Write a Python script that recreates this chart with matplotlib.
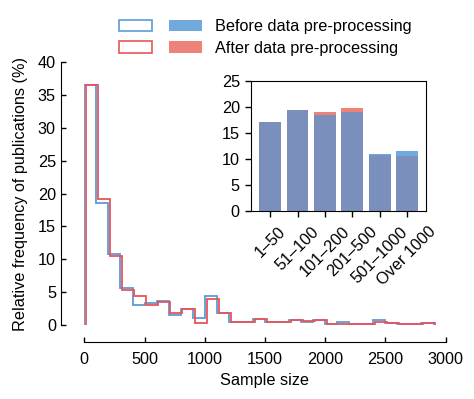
import numpy as np
import matplotlib
matplotlib.use("Agg")
import matplotlib.pyplot as plt
from matplotlib.patches import Patch
from matplotlib.legend_handler import HandlerTuple

plt.rcParams["font.family"] = ["Liberation Sans", "DejaVu Sans"]
plt.rcParams["font.size"] = 11.7

# histogram: relative frequency (%) per 100-sample bin
bin_edges = np.arange(0, 3000, 100)
before_hist = [36.5, 18.6, 10.8, 5.6, 3.0, 3.4, 3.7, 1.5, 2.4, 1.1,
               4.4, 1.9, 0.45, 0.45, 1.0, 0.45, 0.45, 0.8, 0.45, 0.8,
               0.2, 0.5, 0.2, 0.2, 0.8, 0.4, 0.15, 0.15, 0.4]
after_hist = [36.5, 19.2, 10.5, 5.3, 4.5, 3.1, 3.45, 1.9, 2.4, 0.4,
              4.05, 1.9, 0.45, 0.45, 1.0, 0.45, 0.45, 0.8, 0.7, 0.8,
              0.2, 0.2, 0.2, 0.2, 0.45, 0.4, 0.15, 0.15, 0.4]

# inset: share per sample size group (%)
groups = ["1\u201350", "51\u2013100", "101\u2013200", "201\u2013500",
          "501\u20131000", "Over 1000"]
before_grp = [17.1, 19.4, 18.4, 19.0, 10.9, 11.6]
after_grp = [17.1, 19.4, 19.05, 19.7, 10.8, 10.5]

blue_line = "#5b9bd5"
red_line = "#e8555a"
blue_fill = "#70a9dc"
red_fill = "#ef8278"
overlap = "#7a8fbb"

fig = plt.figure(figsize=(4.74, 3.99), dpi=100)
ax = fig.add_axes([0.178, 0.185, 0.762, 0.66])

shift = 15  # small offset so both outlines stay visible
ax.stairs(before_hist, bin_edges, color=blue_line, lw=1.3)
ax.stairs(after_hist, bin_edges + shift, color=red_line, lw=1.3)

ax.set_xlim(0, 3000)
ax.set_ylim(0, 40)
ax.set_xticks(np.arange(0, 3001, 500))
ax.set_yticks(np.arange(0, 41, 5))
for s in ["top", "right"]:
    ax.spines[s].set_visible(False)
ax.spines["left"].set_position(("outward", 17))
ax.spines["bottom"].set_position(("outward", 12))
ax.spines["left"].set_bounds(0, 40)
ax.spines["bottom"].set_bounds(0, 3000)
ax.tick_params(direction="in", length=3.5, width=1)
ax.tick_params(axis="x", pad=7.5)
ax.tick_params(axis="y", pad=3.5)
ax.set_xlabel("Sample size", labelpad=4)
ax.set_ylabel("Relative frequency of publications (%)", labelpad=7)

# inset bar chart
ins = fig.add_axes([0.5295, 0.471, 0.3695, 0.327])
x = np.arange(len(groups))
b = np.array(before_grp)
a = np.array(after_grp)
low = np.minimum(b, a)
ins.bar(x, low, width=0.8, color=overlap)
ins.bar(x, np.maximum(b - a, 0), bottom=low, width=0.8, color=blue_fill)
ins.bar(x, np.maximum(a - b, 0), bottom=low, width=0.8, color=red_fill)
ins.set_xlim(-0.7, 5.7)
ins.set_ylim(0, 25)
ins.set_yticks(np.arange(0, 26, 5))
ins.set_xticks(x)
ins.set_xticklabels(groups, rotation=45, ha="center")
ins.tick_params(direction="out", length=4, width=1, pad=4)
ins.tick_params(axis="x", pad=5.5)

handles = [
    (Patch(facecolor="white", edgecolor=blue_line, lw=1.2),
     Patch(facecolor=blue_fill, edgecolor="none")),
    (Patch(facecolor="white", edgecolor=red_line, lw=1.2),
     Patch(facecolor=red_fill, edgecolor="none")),
]
fig.legend(handles, ["Before data pre-processing", "After data pre-processing"],
           handler_map={tuple: HandlerTuple(ndivide=None, pad=1.05)},
           loc="upper left", bbox_to_anchor=(0.251, 0.952),
           frameon=False, borderpad=0, borderaxespad=0,
           handlelength=5.1, handleheight=0.7, handletextpad=0.8,
           labelspacing=0.4)

fig.savefig("out.png", dpi=100)
